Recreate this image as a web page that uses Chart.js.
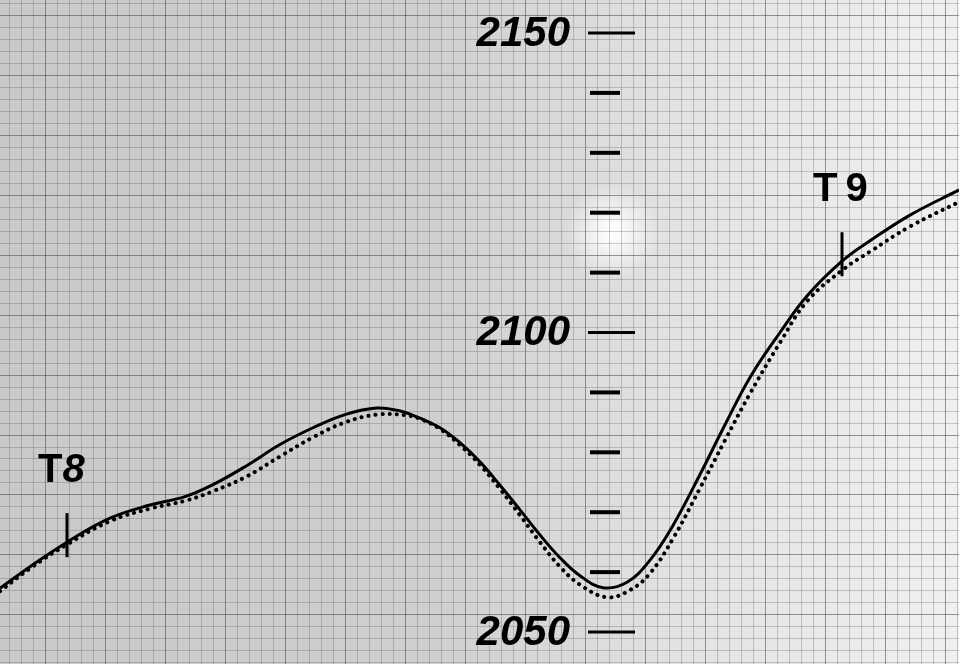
<!DOCTYPE html>
<html>
<head>
<meta charset="utf-8">
<script src="https://cdn.jsdelivr.net/npm/chart.js@4.4.1/dist/chart.umd.min.js"></script>
<style>
  html, body { margin: 0; padding: 0; background: #d4d4d4; }
  #wrap { width: 959px; height: 664px; position: relative; }
</style>
</head>
<body>
<div id="wrap"><canvas id="profile"></canvas></div>
<script>
// distance along the profile (x) and readings (y)
const solidX = [0, 30, 67, 110, 150, 185, 213, 247, 280, 313, 345, 377, 400, 420, 440, 460, 480, 500, 520, 540, 560, 580, 603, 627, 650, 673, 700, 725, 750, 780, 807, 842, 870, 910, 959];
const solidY = [2057.3, 2060.9, 2065.0, 2069.0, 2071.2, 2072.6, 2074.6, 2077.8, 2081.3, 2084.1, 2086.3, 2087.4, 2086.9, 2085.7, 2084.1, 2081.6, 2078.4, 2074.5, 2070.4, 2066.2, 2062.4, 2059.4, 2057.4, 2058.3, 2062.0, 2067.8, 2076.3, 2084.6, 2092.5, 2100.0, 2106.1, 2111.9, 2115.3, 2119.6, 2123.8];

const dottedX = [0, 30, 67, 110, 150, 185, 213, 247, 280, 313, 345, 377, 405, 420, 440, 460, 480, 500, 520, 540, 560, 580, 607, 630, 650, 673, 700, 725, 750, 780, 807, 843, 870, 910, 959];
const dottedY = [2056.8, 2060.6, 2064.6, 2068.5, 2070.6, 2071.9, 2073.5, 2076.0, 2079.3, 2082.5, 2085.0, 2086.3, 2086.2, 2085.6, 2083.9, 2081.2, 2077.9, 2073.9, 2069.5, 2065.0, 2060.9, 2057.9, 2055.8, 2057.0, 2059.8, 2065.6, 2074.0, 2082.0, 2089.8, 2098.3, 2105.2, 2110.5, 2113.5, 2117.7, 2121.8];

// scale marks on the vertical bar
const tickValues = [2150, 2140, 2130, 2120, 2110, 2100, 2090, 2080, 2070, 2060, 2050];
const tickLabels = ['2150', '', '', '', '', '2100', '', '', '', '', '2050'];

// station markers
const stationX = [67, 842];
const stationNames = ['T', 'T'];
const stationNums = ['8', '9'];

const axisX = 590;

const toPoints = (xs, ys) => xs.map((x, i) => ({ x: x, y: ys[i] }));

const paperPlugin = {
    id: 'paper',
    beforeDraw(chart) {
        const { ctx, chartArea: a, scales: { x, y } } = chart;
        ctx.save();
        // paper tone, lighter towards the right
        const g = ctx.createLinearGradient(a.left, 0, a.right, 0);
        g.addColorStop(0, '#c9c9c9');
        g.addColorStop(0.45, '#cfcfcf');
        g.addColorStop(0.7, '#e2e2e2');
        g.addColorStop(1, '#f0f0f0');
        ctx.fillStyle = g;
        ctx.fillRect(a.left, a.top, a.right - a.left, a.bottom - a.top);
        // white patch near the top of the scale bar
        const r = ctx.createRadialGradient(612, 232, 5, 612, 232, 48);
        r.addColorStop(0, 'rgba(255,255,255,0.95)');
        r.addColorStop(1, 'rgba(255,255,255,0)');
        ctx.fillStyle = r;
        ctx.fillRect(550, 170, 130, 130);

        // graph paper grid, 2 units a square
        for (let v = 9; v <= 959; v += 12) {
            const px = Math.round(x.getPixelForValue(v)) + 0.5;
            const heavy = (v - 45) % 60 === 0;
            ctx.strokeStyle = heavy ? 'rgba(70,70,70,0.55)' : 'rgba(90,90,90,0.3)';
            ctx.lineWidth = 1;
            ctx.beginPath();
            ctx.moveTo(px, a.top);
            ctx.lineTo(px, a.bottom);
            ctx.stroke();
        }
        for (let k = 0; k < 60; k++) {
            const v = 2044.97 + 2 * k;
            if (v > y.max) break;
            const py = Math.round(y.getPixelForValue(v)) + 0.5;
            const heavy = k % 5 === 4;
            ctx.strokeStyle = heavy ? 'rgba(70,70,70,0.55)' : 'rgba(90,90,90,0.3)';
            ctx.beginPath();
            ctx.moveTo(a.left, py);
            ctx.lineTo(a.right, py);
            ctx.stroke();
        }
        ctx.restore();
    },
    afterDatasetsDraw(chart) {
        const { ctx, scales: { x, y } } = chart;
        ctx.save();
        ctx.fillStyle = '#000';
        ctx.strokeStyle = '#000';
        const ax = x.getPixelForValue(axisX);
        tickValues.forEach((v, i) => {
            const py = y.getPixelForValue(v);
            if (tickLabels[i]) {
                ctx.fillRect(ax - 2, py - 1.5, 47, 3);
                ctx.font = 'italic bold 42px "Liberation Sans", Arial, sans-serif';
                ctx.textAlign = 'right';
                ctx.textBaseline = 'middle';
                ctx.fillText(tickLabels[i], ax - 20, py + 1);
            } else {
                ctx.fillRect(ax, py - 2, 30, 4);
            }
        });
        // station ticks and names
        const solid = chart.data.datasets[0].data;
        stationX.forEach((sx, i) => {
            const px = x.getPixelForValue(sx);
            let yv = solid[0].y;
            for (let j = 1; j < solid.length; j++) {
                if (solid[j].x >= sx) {
                    const t = (sx - solid[j - 1].x) / (solid[j].x - solid[j - 1].x);
                    yv = solid[j - 1].y + t * (solid[j].y - solid[j - 1].y);
                    break;
                }
            }
            const py = y.getPixelForValue(yv);
            ctx.lineWidth = 3;
            ctx.beginPath();
            ctx.moveTo(px, py - 29);
            ctx.lineTo(px, py + 15);
            ctx.stroke();
            ctx.textBaseline = 'alphabetic';
            ctx.textAlign = 'left';
            const base = py - 60;
            const left = px - 29;
            ctx.font = 'bold 40px "Liberation Sans", Arial, sans-serif';
            ctx.fillText(stationNames[i], left, base);
            const tw = ctx.measureText(stationNames[i]).width;
            ctx.font = (i === 0 ? 'italic ' : '') + 'bold 40px "Liberation Sans", Arial, sans-serif';
            ctx.fillText(stationNums[i], left + tw + (i === 0 ? 0 : 8), base);
        });
        ctx.restore();
    }
};

new Chart(document.getElementById('profile').getContext('2d'), {
    type: 'line',
    data: {
        datasets: [
            {
                label: 'measured',
                data: toPoints(solidX, solidY),
                borderColor: '#000',
                borderWidth: 3,
                pointRadius: 0,
                tension: 0.4,
                fill: false
            },
            {
                label: 'computed',
                data: toPoints(dottedX, dottedY),
                borderColor: '#000',
                borderWidth: 4,
                borderDash: [0.1, 7],
                borderCapStyle: 'round',
                pointRadius: 0,
                tension: 0.4,
                fill: false
            }
        ]
    },
    options: {
        responsive: true,
        maintainAspectRatio: false,
        animation: false,
        layout: { padding: 0 },
        plugins: {
            legend: { display: false },
            tooltip: { enabled: false }
        },
        scales: {
            x: { type: 'linear', min: 0, max: 959, display: false },
            y: { type: 'linear', min: 2044.66, max: 2155.51, display: false }
        }
    },
    plugins: [paperPlugin]
});
</script>
</body>
</html>
